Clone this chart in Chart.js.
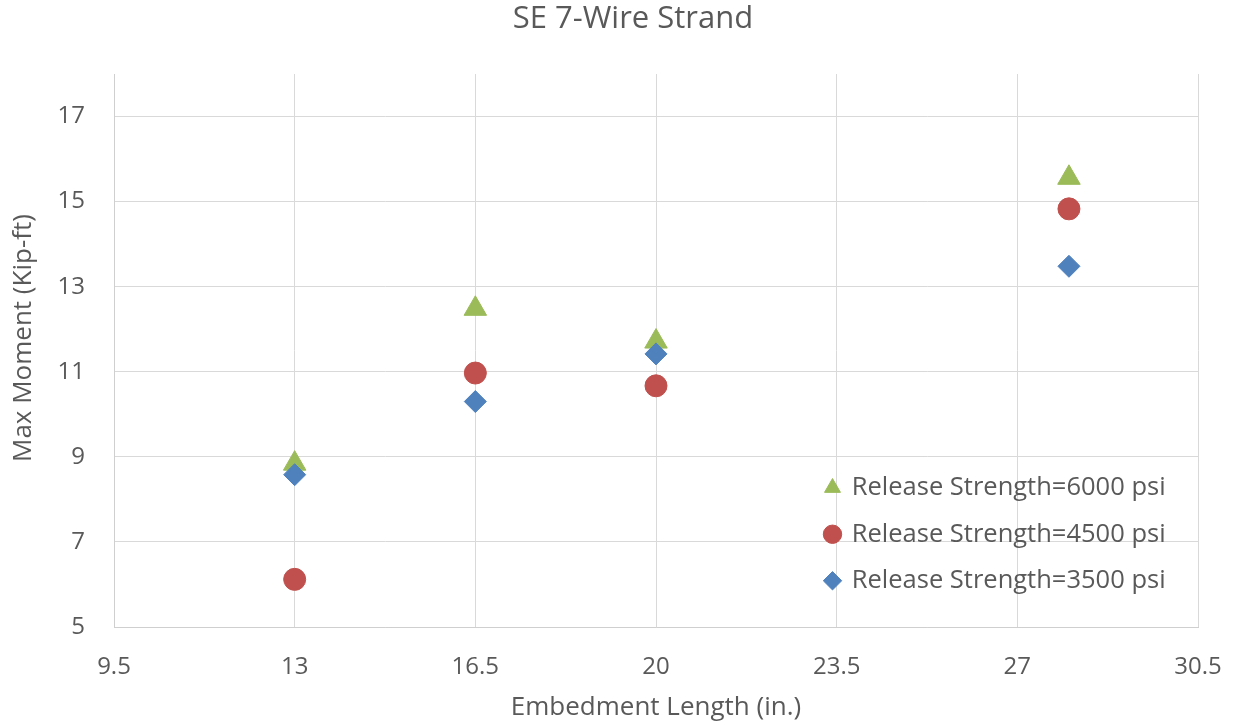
<!DOCTYPE html>
<html>
<head>
<meta charset="utf-8">
<script src="https://cdn.jsdelivr.net/npm/chart.js@4/dist/chart.umd.min.js"></script>
<style>
  html, body { margin: 0; padding: 0; background: #ffffff; }
  #wrap { width: 1235px; height: 725px; }
</style>
</head>
<body>
<div id="wrap"><canvas id="c" width="1235" height="725"></canvas></div>
<script>
// ---- data ----
const embedmentLength = [13, 16.5, 20, 28];
const moment6000 = [8.84, 12.48, 11.71, 15.56];
const moment4500 = [6.12, 10.97, 10.67, 14.83];
const moment3500 = [8.58, 10.30, 11.42, 13.48];
const seriesNames = ['Release Strength=6000 psi', 'Release Strength=4500 psi', 'Release Strength=3500 psi'];
const yTickValues = [5, 7, 9, 11, 13, 15, 17];
const xTickValues = [9.5, 13, 16.5, 20, 23.5, 27, 30.5];
const chartTitle = 'SE 7-Wire Strand';
const xTitle = 'Embedment Length (in.)';
const yTitle = 'Max Moment (Kip-ft)';

const toPts = (ys) => embedmentLength.map((x, i) => ({ x: x, y: ys[i] }));

const TEXT = '#595959';
const GRID = '#d9d9d9';
const FONT = 'Open Sans';

const placeBoxes = {
  id: 'placeBoxes',
  afterLayout(chart) { this._place(chart); },
  beforeDraw(chart) { this._place(chart); },
  _place(chart) {
    const ca = chart.chartArea;
    const lg = chart.legend;
    if (lg) {
      const w = lg.width;
      lg.left = ca.right - 393;
      lg.right = lg.left + w;
      lg.bottom = ca.bottom - 12.5;
    }
    const t = chart.titleBlock;
    if (t) { t.left = 31; t.right = 1235; t.width = 1204; }
    const ys = chart.scales.y;
    if (ys && !ys._titleShifted) {
      const proto = Object.getPrototypeOf(ys);
      ys.drawTitle = function () {
        const top = this.top, bottom = this.bottom;
        this.top = top - 12.5; this.bottom = bottom - 12.5;
        proto.drawTitle.call(this);
        this.top = top; this.bottom = bottom;
      };
      ys._titleShifted = true;
    }
  }
};

new Chart(document.getElementById('c'), {
  type: 'scatter',
  data: {
    datasets: [
      {
        label: seriesNames[0], data: toPts(moment6000), order: 3,
        pointStyle: 'triangle', pointRadius: 13, pointHoverRadius: 13,
        backgroundColor: '#9BBB59', borderColor: '#9BBB59', borderWidth: 1
      },
      {
        label: seriesNames[1], data: toPts(moment4500), order: 2,
        pointStyle: 'circle', pointRadius: 11, pointHoverRadius: 11,
        backgroundColor: '#C0504D', borderColor: '#C0504D', borderWidth: 1
      },
      {
        label: seriesNames[2], data: toPts(moment3500), order: 1,
        pointStyle: 'rectRot', pointRadius: 11, pointHoverRadius: 11,
        backgroundColor: '#4F81BD', borderColor: '#4F81BD', borderWidth: 1
      }
    ]
  },
  options: {
    responsive: false,
    animation: false,
    events: [],
    layout: { padding: { left: 0, right: 37, top: 0, bottom: 0 } },
    plugins: {
      tooltip: { enabled: false },
      title: {
        display: true, text: chartTitle, color: TEXT,
        font: { family: FONT, size: 31, weight: 'normal' },
        padding: { top: 1, bottom: 35.8 }
      },
      legend: {
        display: true,
        position: 'chartArea',
        align: 'end',
        labels: {
          usePointStyle: true,
          boxWidth: 13, boxHeight: 13,
          padding: 21,
          color: TEXT,
          font: { family: FONT, size: 25.5 },
          sort: (a, b) => a.datasetIndex - b.datasetIndex
        }
      }
    },
    scales: {
      x: {
        type: 'linear',
        min: 9.5, max: 30.5,
        afterBuildTicks: (s) => { s.ticks = xTickValues.map(v => ({ value: v })); },
        afterFit: (s) => { s.height = 98; s.paddingLeft = 0; s.paddingRight = 0; },
        ticks: { color: TEXT, padding: 26, font: { family: FONT, size: 24 } },
        grid: { color: GRID, lineWidth: 1, drawTicks: false },
        border: { color: '#cfcfcf', width: 1 },
        title: {
          display: true, text: xTitle, color: TEXT,
          font: { family: FONT, size: 26 },
          padding: { top: 0, bottom: 2 }
        }
      },
      y: {
        type: 'linear',
        min: 5, max: 18,
        afterBuildTicks: (s) => { s.ticks = yTickValues.map(v => ({ value: v })); },
        afterFit: (s) => { s.width = 114; s.paddingTop = 0; s.paddingBottom = 0; },
        ticks: { color: TEXT, padding: 29, font: { family: FONT, size: 24 } },
        grid: { color: GRID, lineWidth: 1, drawTicks: false },
        border: { color: '#cfcfcf', width: 1 },
        title: {
          display: true, text: yTitle, color: TEXT,
          font: { family: FONT, size: 26 },
          padding: { top: 8, bottom: 0 }
        }
      }
    }
  },
  plugins: [placeBoxes]
});
</script>
</body>
</html>
